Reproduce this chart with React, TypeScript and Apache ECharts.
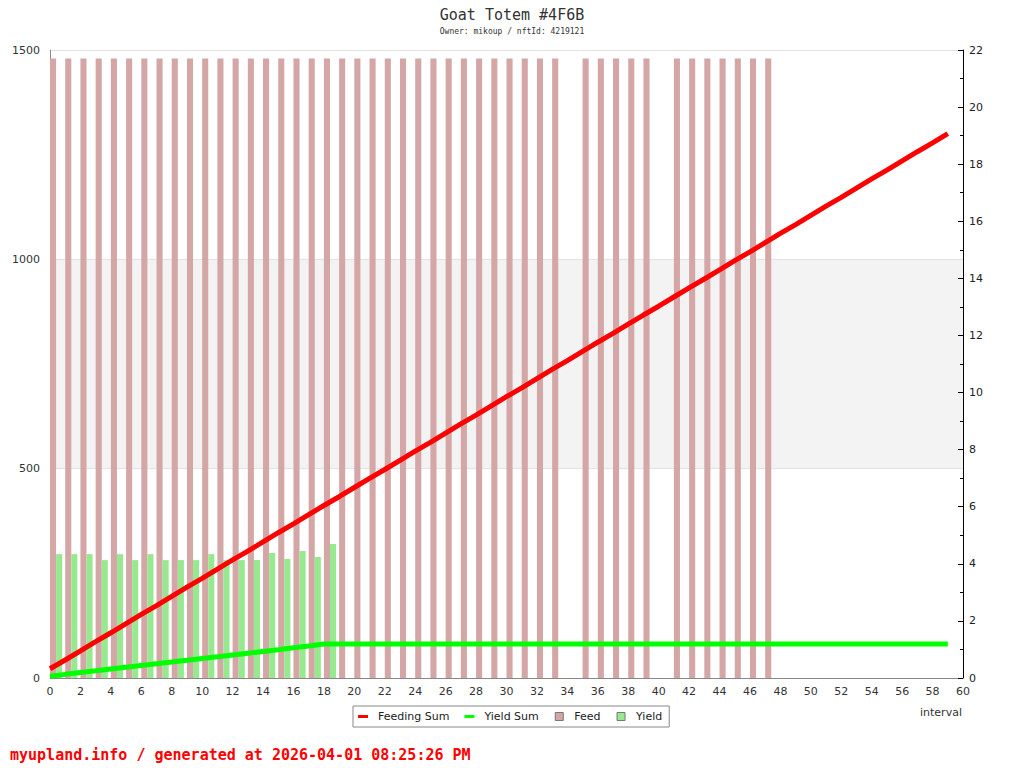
import React, { useEffect, useRef } from "react";
import * as echarts from "echarts";

const intervals = [
  0, 1, 2, 3, 4, 5, 6, 7, 8, 9, 10, 11, 12, 13, 14, 15, 16, 17, 18, 19,
  20, 21, 22, 23, 24, 25, 26, 27, 28, 29, 30, 31, 32, 33, 34, 35, 36, 37, 38, 39,
  40, 41, 42, 43, 44, 45, 46, 47, 48, 49, 50, 51, 52, 53, 54, 55, 56, 57, 58, 59,
];

// Feed per interval (right axis); null = no feed
const feed = [
  21.7, 21.7, 21.7, 21.7, 21.7, 21.7, 21.7, 21.7, 21.7, 21.7,
  21.7, 21.7, 21.7, 21.7, 21.7, 21.7, 21.7, 21.7, 21.7, 21.7,
  21.7, 21.7, 21.7, 21.7, 21.7, 21.7, 21.7, 21.7, 21.7, 21.7,
  21.7, 21.7, 21.7, 21.7, null, 21.7, 21.7, 21.7, 21.7, 21.7,
  null, 21.7, 21.7, 21.7, 21.7, 21.7, 21.7, 21.7,
];

// Yield per interval (right axis)
const yieldValues = [
  4.34, 4.34, 4.34, 4.13, 4.34, 4.13, 4.34, 4.13, 4.13, 4.13,
  4.34, 4.13, 4.13, 4.13, 4.38, 4.17, 4.45, 4.24, 4.69,
];

// Cumulative sums (left axis)
const feedingSum = [
  22, 43, 65, 87, 108, 130, 152, 173, 195, 217,
  238, 260, 282, 303, 325, 347, 368, 390, 412, 433,
  455, 477, 498, 520, 542, 563, 585, 607, 628, 650,
  672, 693, 715, 737, 758, 780, 802, 823, 845, 867,
  888, 910, 932, 953, 975, 997, 1018, 1040, 1062, 1083,
  1105, 1127, 1148, 1170, 1192, 1213, 1235, 1257, 1278, 1300,
];

const yieldSum = [
  4.3, 8.7, 13.0, 17.2, 21.5, 25.6, 30.0, 34.1, 38.2, 42.4,
  46.7, 50.8, 55.0, 59.1, 63.5, 67.6, 72.1, 76.3, 81.0, 81.0,
  81.0, 81.0, 81.0, 81.0, 81.0, 81.0, 81.0, 81.0, 81.0, 81.0,
  81.0, 81.0, 81.0, 81.0, 81.0, 81.0, 81.0, 81.0, 81.0, 81.0,
  81.0, 81.0, 81.0, 81.0, 81.0, 81.0, 81.0, 81.0, 81.0, 81.0,
  81.0, 81.0, 81.0, 81.0, 81.0, 81.0, 81.0, 81.0, 81.0, 81.0,
];

const FEED_COLOR = "#d4a6a6";
const YIELD_COLOR = "#97e98f";
const SANS = "DejaVu Sans";
const MONO = "DejaVu Sans Mono";

function barRenderer(offset: number, width: number, color: string) {
  return (params: any, api: any) => {
    const x = api.value(0);
    const v = api.value(1);
    const p0 = api.coord([x + offset, 0]);
    const p1 = api.coord([x + offset + width, v]);
    return {
      type: "rect",
      shape: { x: p0[0], y: p1[1], width: p1[0] - p0[0], height: p0[1] - p1[1] },
      style: { fill: color },
    };
  };
}

export default function App() {
  const ref = useRef<HTMLDivElement>(null);

  useEffect(() => {
    if (!ref.current) return;
    const chart = echarts.init(ref.current, undefined, { renderer: "svg" });

    const feedData = feed
      .map((v, i) => (v == null ? null : [intervals[i], v]))
      .filter((d) => d !== null);
    const yieldData = yieldValues.map((v, i) => [intervals[i], v]);

    const lineIcon = "path://M0,0M15,10M0,3.5H10V6.5H0Z";
    const squareIcon = "path://M0,0M15,10M1,1H9V9H1Z";

    chart.setOption({
      animation: false,
      backgroundColor: "#ffffff",
      title: {
        text: "Goat Totem #4F6B",
        subtext: "Owner: mikoup / nftId: 4219121",
        left: "center",
        top: 2,
        itemGap: 5,
        textStyle: { fontFamily: MONO, fontSize: 15, fontWeight: "normal", color: "#333" },
        subtextStyle: { fontFamily: MONO, fontSize: 8, color: "#333" },
      },
      legend: {
        left: 353,
        top: 706,
        padding: [5, 7, 5, 5],
        itemGap: 15,
        itemWidth: 15,
        itemHeight: 10,
        borderColor: "#888",
        borderWidth: 1,
        textStyle: { fontFamily: SANS, fontSize: 11, color: "#222" },
        data: [
          { name: "Feeding Sum", icon: lineIcon, itemStyle: { color: "#ff0000" } },
          { name: "Yield Sum", icon: lineIcon, itemStyle: { color: "#00ff00" } },
          { name: "Feed", icon: squareIcon, itemStyle: { color: FEED_COLOR, borderColor: "#777", borderWidth: 1 } },
          { name: "Yield", icon: squareIcon, itemStyle: { color: YIELD_COLOR, borderColor: "#777", borderWidth: 1 } },
        ],
      },
      grid: { left: 50, right: 61, top: 50, bottom: 90 },
      xAxis: {
        type: "value",
        min: 0,
        max: 60,
        interval: 2,
        name: "interval",
        nameLocation: "end",
        nameGap: -43,
        nameTextStyle: {
          fontFamily: SANS,
          fontSize: 11,
          color: "#333",
          align: "left",
          verticalAlign: "top",
          padding: [29, 0, 0, 0],
        },
        axisLine: { lineStyle: { color: "#888" } },
        axisTick: { show: false },
        splitLine: { show: false },
        axisLabel: { fontFamily: SANS, fontSize: 11, color: "#333", margin: 8 },
      },
      yAxis: [
        {
          type: "value",
          min: 0,
          max: 1500,
          interval: 500,
          position: "left",
          axisLine: { show: true, lineStyle: { color: "#888" } },
          axisTick: { show: false },
          splitLine: { show: true, lineStyle: { color: "#e2e2e2" } },
          splitArea: { show: true, areaStyle: { color: ["rgba(0,0,0,0)", "#f3f3f3"] } },
          axisLabel: {
            fontFamily: SANS,
            fontSize: 11,
            color: "#333",
            margin: 10,
            formatter: (v: number) => String(v),
          },
        },
        {
          type: "value",
          min: 0,
          max: 22,
          interval: 2,
          position: "right",
          axisLine: { show: true, lineStyle: { color: "#000" } },
          axisTick: { show: true, inside: true, length: 5, lineStyle: { color: "#000" } },
          minorTick: { show: true, splitNumber: 2, length: 3, lineStyle: { color: "#000" } },
          splitLine: { show: false },
          axisLabel: { fontFamily: SANS, fontSize: 11, color: "#222", margin: 6 },
        },
      ],
      series: [
        {
          name: "Feed",
          type: "custom",
          yAxisIndex: 1,
          itemStyle: { color: FEED_COLOR },
          renderItem: barRenderer(0, 0.4, FEED_COLOR),
          data: feedData,
          z: 1,
        },
        {
          name: "Yield",
          type: "custom",
          yAxisIndex: 1,
          itemStyle: { color: YIELD_COLOR },
          renderItem: barRenderer(0.4, 0.4, YIELD_COLOR),
          data: yieldData,
          z: 1,
        },
        {
          name: "Feeding Sum",
          type: "line",
          yAxisIndex: 0,
          symbol: "none",
          lineStyle: { color: "#ff0000", width: 5 },
          itemStyle: { color: "#ff0000" },
          data: feedingSum.map((v, i) => [intervals[i], v]),
          z: 3,
        },
        {
          name: "Yield Sum",
          type: "line",
          yAxisIndex: 0,
          symbol: "none",
          lineStyle: { color: "#00ff00", width: 5 },
          itemStyle: { color: "#00ff00" },
          data: yieldSum.map((v, i) => [intervals[i], v]),
          z: 3,
        },
      ],
      graphic: [
        {
          type: "text",
          left: 10,
          top: 747,
          style: {
            text: "myupland.info / generated at 2026-04-01 08:25:26 PM",
            fill: "#ff0000",
            font: `bold 15px "${MONO}"`,
          },
        },
      ],
    });

    return () => chart.dispose();
  }, []);

  return (
    <div
      ref={ref}
      style={{ position: "fixed", left: 0, top: 0, width: 1024, height: 768, background: "#fff" }}
    />
  );
}
